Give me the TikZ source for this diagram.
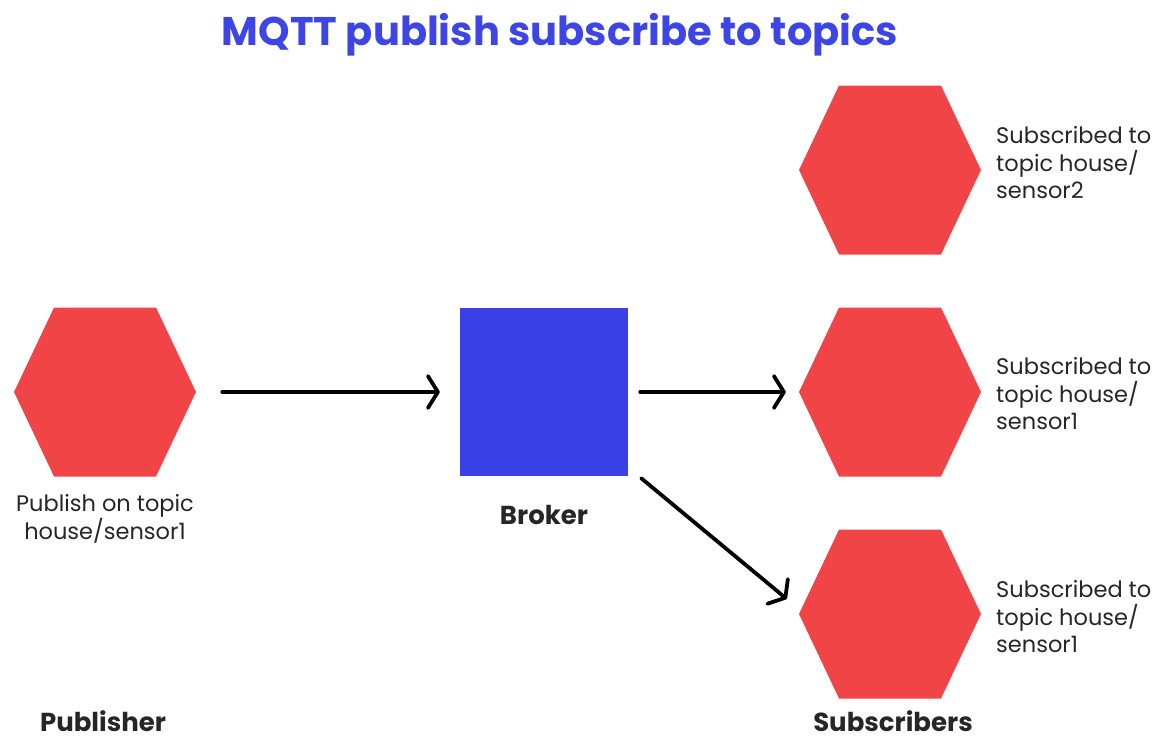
\documentclass[tikz,border=0pt]{standalone}
\usepackage{fontspec}
\setmainfont{Poppins}
\usetikzlibrary{arrows.meta,calc}
\definecolor{hexred}{HTML}{F04447}
\definecolor{brokerblue}{HTML}{3A40E8}
\definecolor{titleblue}{HTML}{3D45E6}
\definecolor{txt}{HTML}{262626}
\begin{document}
\begin{tikzpicture}[x=1pt,y=-1pt,
  hexnode/.style={minimum width=182pt,minimum height=169pt,inner sep=0pt,
    path picture={\fill[hexred]
      (path picture bounding box.west)
      -- ($(path picture bounding box.north west)+(40,0)$)
      -- ($(path picture bounding box.north east)+(-40,0)$)
      -- (path picture bounding box.east)
      -- ($(path picture bounding box.south east)+(-40,0)$)
      -- ($(path picture bounding box.south west)+(40,0)$) -- cycle;}},
  brokernode/.style={fill=brokerblue,minimum width=168pt,minimum height=168pt,inner sep=0pt},
  arr/.style={line width=3.8pt,line cap=round,-{Straight Barb[length=10pt,width=32pt,line cap=round,line join=round]}},
  desc/.style={font=\fontsize{22.5}{27.5}\selectfont,text=txt,align=left,inner sep=0pt},
  role/.style={font=\fontsize{26}{30}\selectfont\bfseries,text=txt,inner sep=0pt,text depth=0pt}
]
\useasboundingbox (0,0) rectangle (1172,742);
\node[font=\fontsize{40}{46}\selectfont\bfseries,text=titleblue,inner sep=0pt] (title) at (560,35) {MQTT publish subscribe to topics};

\node[hexnode] (pub) at (105,392) {};
\node[brokernode] (broker) at (544,392) {};
\node[hexnode] (sub1) at (890,170) {};
\node[hexnode] (sub2) at (890,392) {};
\node[hexnode] (sub3) at (890,614) {};

\node[desc,align=center] (publbl) at (105,519) {Publish on topic\\house/sensor1};
\node[desc,anchor=west] (s1lbl) at (996,163) {Subscribed to\\topic house/\\sensor2};
\node[desc,anchor=west] (s2lbl) at (996,394) {Subscribed to\\topic house/\\sensor1};
\node[desc,anchor=west] (s3lbl) at (996,617) {Subscribed to\\topic house/\\sensor1};

\node[role,anchor=base] (publisher) at (103,731) {Publisher};
\node[role,anchor=base] (brokerlbl) at (544,524) {Broker};
\node[role,anchor=base] (subscribers) at (893,731) {Subscribers};

\draw[arr] ([xshift=26pt]pub.east) -- ([xshift=-20pt]broker.west);
\draw[arr] ([xshift=12pt]broker.east) -- ([xshift=-13pt]sub2.west);
\draw[arr] ([shift={(13,2)}]broker.south east) -- ([shift={(-12,-15)}]sub3.west);
\end{tikzpicture}
\end{document}
